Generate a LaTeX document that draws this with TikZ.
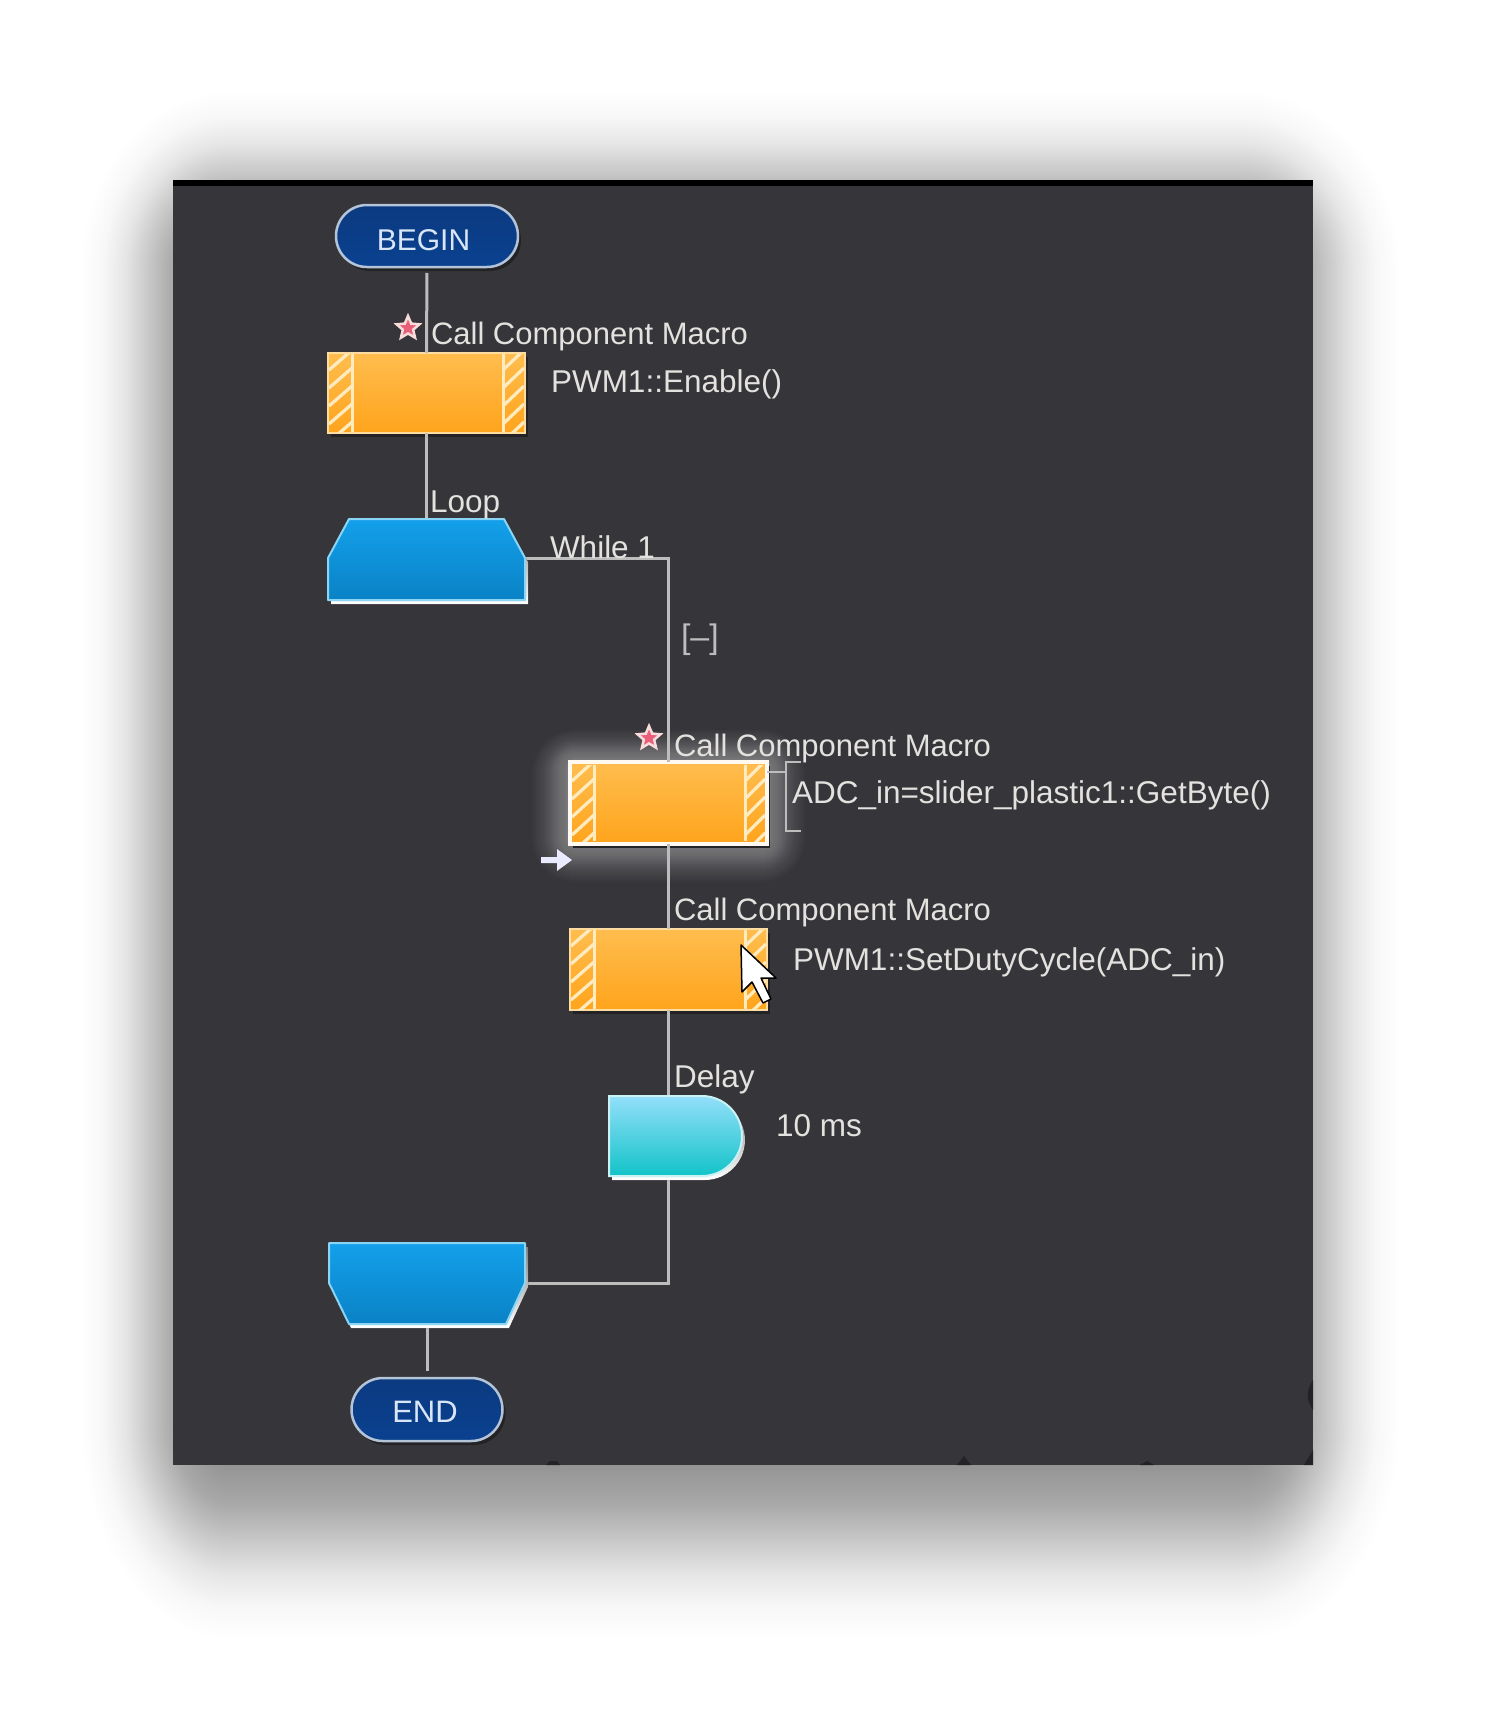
\documentclass[tikz,border=0pt]{standalone}
\usepackage{fontspec}
\setmainfont{Liberation Sans}
\usetikzlibrary{shapes.misc,shapes.geometric,shadows,calc}
\definecolor{panelc}{HTML}{363539}
\definecolor{linec}{HTML}{BDBDBD}
\definecolor{txtc}{HTML}{E4E2DF}
\definecolor{orgT}{HTML}{FFBD4E}
\definecolor{orgB}{HTML}{FFA41C}
\definecolor{orgL}{HTML}{FFDDA0}
\definecolor{hatchc}{HTML}{FFEBC0}
\definecolor{bluT}{HTML}{13A0EA}
\definecolor{bluB}{HTML}{0A82C6}
\definecolor{bluL}{HTML}{8AD4F4}
\definecolor{navyT}{HTML}{0B3A80}
\definecolor{navyB}{HTML}{0A4190}
\definecolor{navyL}{HTML}{B4C4D8}
\definecolor{delT}{HTML}{93DFFA}
\definecolor{delB}{HTML}{12C3C8}
\definecolor{delL}{HTML}{C8F2F4}
\definecolor{shade}{HTML}{232225}
\definecolor{starF}{HTML}{E8607A}
\definecolor{starL}{HTML}{F8DCDC}
\definecolor{termT}{HTML}{D8E6F8}
\pgfdeclareverticalshading{softedge}{100bp}{
  rgb(0bp)=(1,1,1); rgb(25bp)=(1,1,1); rgb(32.5bp)=(.97,.97,.97); rgb(40bp)=(.9,.9,.9);
  rgb(50bp)=(.75,.75,.75); rgb(56bp)=(.66,.66,.66); rgb(65bp)=(.58,.58,.58); rgb(75bp)=(.55,.55,.55); rgb(100bp)=(.55,.55,.55)}
\pgfdeclareradialshading{softcorner}{\pgfpoint{0bp}{0bp}}{
  rgb(0bp)=(.55,.55,.55); rgb(5bp)=(.58,.58,.58); rgb(9.5bp)=(.66,.66,.66); rgb(12.5bp)=(.75,.75,.75);
  rgb(17.5bp)=(.9,.9,.9); rgb(21.25bp)=(.97,.97,.97); rgb(25bp)=(1,1,1); rgb(50bp)=(1,1,1)}
\tikzset{
  lbl/.style={anchor=base west,inner sep=0pt,outer sep=0pt,text=txtc,font=\fontsize{31.5}{36}\selectfont},
  callt/.style={lbl,font=\fontsize{31}{36}\selectfont},
  term/.style={rounded rectangle,inner sep=0pt,outer sep=0pt,draw=navyL,line width=2.5pt,top color=navyT,bottom color=navyB,
    text=termT,drop shadow={shadow xshift=3pt,shadow yshift=-4pt,fill=shade,opacity=1}},
  callbox/.style={rectangle,inner sep=0pt,outer sep=0pt,minimum width=197pt,draw=orgL,line width=2pt,top color=orgT,bottom color=orgB,
    drop shadow={shadow xshift=3pt,shadow yshift=-4pt,fill=shade,opacity=1}},
  holder/.style={rectangle,inner sep=0pt,outer sep=0pt},
  conn/.style={draw=linec,line width=3pt},
  loopshape/.style={draw=bluL,line width=2pt,top color=bluT,bottom color=bluB,line join=round},
  staric/.style={star,star points=5,star point ratio=2.2,minimum size=24pt,inner sep=0pt,fill=starF,draw=starL,line width=2.5pt},
  speck/.style={fill=shade}
}
\newcommand{\hatchstripe}[4]{% xa xb ytop ybottom
  \begin{scope}
    \clip (#1,#3) rectangle (#2,#4);
    \foreach \k in {0,...,6}{
      \draw[hatchc,line width=3.2pt] (#1,{#3+\k*18-2}) -- (#2,{#3+\k*18-22});
    }
  \end{scope}
}
\begin{document}
\begin{tikzpicture}[x=1pt,y=-1pt]
\useasboundingbox (0,0) rectangle (1496,1710);
\fill[white] (0,0) rectangle (1496,1710);
% soft outer shadow: corners, then edges
\begin{scope}\clip (80,90) rectangle (230,270);
  \path[shading=softcorner] (80,90) rectangle (380,450);\end{scope}
\begin{scope}\clip (1240,90) rectangle (1400,270);
  \path[shading=softcorner] (1080,90) rectangle (1400,450);\end{scope}
\begin{scope}\clip (80,1420) rectangle (230,1640);
  \path[shading=softcorner] (80,1200) rectangle (380,1640);\end{scope}
\begin{scope}\clip (1240,1420) rectangle (1400,1640);
  \path[shading=softcorner] (1080,1200) rectangle (1400,1640);\end{scope}
\path[shading=softedge,shading angle=270] (80,269) rectangle (230,1421);
\path[shading=softedge,shading angle=90] (1240,269) rectangle (1400,1421);
\path[shading=softedge,shading angle=180] (229,90) rectangle (1241,270);
\path[shading=softedge] (229,1420) rectangle (1241,1640);
% panel
\fill[panelc] (173,180) rectangle (1313,1465);
\fill[black] (173,180) rectangle (1313,186);
% specks on the panel edge
\fill[speck] (546,1465) -- (550,1461) -- (557,1461) -- (560,1465) -- cycle;
\fill[speck] (957,1465) -- (964,1456) -- (971,1465) -- cycle;
\fill[speck] (1140,1465) -- (1147,1461) -- (1154,1465) -- cycle;
\fill[speck] (1304,1465) -- (1313,1450) -- (1313,1465) -- cycle;
\fill[speck] (1313,1380) .. controls (1306,1390) and (1306,1400) .. (1313,1410) -- cycle;
% glow round the current icon
\foreach \e in {0,2,...,38}{
  \pgfmathsetmacro{\ga}{0.036*(1-\e/70)}
  \pgfmathsetmacro{\gr}{6+\e}
  \fill[white,opacity=\ga,rounded corners=\gr pt] ({570-\e},{762-\e*0.85}) rectangle ({767+\e},{844+\e});
}
% anchor-only nodes of the icons whose outline is a path
\node[holder,minimum width=197pt,minimum height=81pt] (loop) at (426.5,559.5) {};
\node[holder,minimum width=196pt,minimum height=81pt] (loopend) at (427,1283.5) {};
\node[holder,minimum width=133pt,minimum height=80pt] (delay) at (675.5,1136) {};
% terminals and calls
\node[term,minimum width=182pt,minimum height=62pt,font=\fontsize{30}{36}\selectfont] (nBegin) at (427,236) {\kern-7pt\raisebox{-14pt}[0pt][0pt]{BEGIN}};
\node[term,minimum width=151pt,minimum height=63pt,font=\fontsize{31}{36}\selectfont] (nEnd) at (427,1409.5) {\kern-4pt\raisebox{-12.5pt}[0pt][0pt]{END}};
\node[callbox,minimum height=80pt] (box1) at (426.5,393) {};
\node[callbox,minimum height=82pt,draw=white!95!orange,line width=4.5pt] (box2) at (668.5,803) {};
\node[callbox,minimum height=81pt] (box3) at (668.5,969.5) {};
% connectors
\coordinate (loopR) at ($(loop.north east)+(0,39)$);
\coordinate (loopendR) at ($(loopend.north east)+(0,40)$);
\draw[conn,shorten <=6pt] (nBegin.south) -- (box1.north);
\draw[conn] (box1.south) -- (loop.north);
\draw[conn] (loopR) -| (box2.north);
\draw[conn] (box2.south) -- (box3.north);
\draw[conn] (box3.south) -- (box3.south |- delay.north);
\draw[conn] (box3.south |- delay.south) |- (loopendR);
\draw[conn,shorten >=7pt] (loopend.south) -- (nEnd.north);
% bracket of the selected icon
\coordinate (brT) at (801,762);
\coordinate (brB) at (801,831);
\coordinate (brM) at (786,772);
\draw[linec,line width=2pt] (brT) -- (786,762) -- (786,831) -- (brB);
\draw[linec,line width=2pt] (box2.east |- brM) -- (brM);
% loop icons
\fill[shade] (351,523) -- (507,523) -- (528,562) -- (528,604) -- (331,604) -- (331,562) -- cycle;
\path[loopshape] ($(loop.north west)+(21,0)$) -- ($(loop.north east)+(-21,0)$) -- (loopR) -- (loop.south east) -- (loop.south west) -- ($(loop.north west)+(0,39)$) -- cycle;
\fill[shade] (332,1247) -- (528,1247) -- (528,1287) -- (509,1328) -- (351,1328) -- (332,1287) -- cycle;
\path[loopshape] (loopend.north west) -- (loopend.north east) -- (loopendR) -- ($(loopend.south east)+(-19,0)$) -- ($(loopend.south west)+(20,0)$) -- ($(loopend.north west)+(0,40)$) -- cycle;
% delay icon
\fill[shade] (612,1100) -- (705,1100) .. controls (727,1100) and (745,1118) .. (745,1140) .. controls (745,1162) and (727,1180) .. (705,1180) -- (612,1180) -- cycle;
\path[draw=delL,line width=2pt,top color=delT,bottom color=delB]
  (delay.north west) -- ($(delay.north east)+(-40,0)$)
  .. controls ($(delay.north east)+(-18,0)$) and ($(delay.east)+(0,-22)$) .. (delay.east)
  .. controls ($(delay.east)+(0,22)$) and ($(delay.south east)+(-18,0)$) .. ($(delay.south east)+(-40,0)$)
  -- (delay.south west) -- cycle;
% hatched side stripes
\hatchstripe{329}{352}{354}{432}
\hatchstripe{503}{524}{354}{432}
\draw[hatchc,line width=3pt] (352,354) -- (352,432);
\draw[hatchc,line width=3pt] (503,354) -- (503,432);
\hatchstripe{572}{594}{765}{841}
\hatchstripe{745}{765}{765}{841}
\draw[hatchc,line width=3pt] (594,765) -- (594,841);
\draw[hatchc,line width=3pt] (745,765) -- (745,841);
\hatchstripe{571}{594}{930}{1009}
\hatchstripe{745}{766}{930}{1009}
\draw[hatchc,line width=3pt] (594,930) -- (594,1009);
\draw[hatchc,line width=3pt] (745,930) -- (745,1009);
% stars, arrow, cursor
\node[staric] (star1) at (408,328) {};
\node[staric] (star2) at (649,738) {};
\fill[white!92!blue] (541,857) -- (557,857) -- (557,849) -- (572,860) -- (557,871) -- (557,863) -- (541,863) -- cycle;
\draw[black,fill=white,line width=1.5pt,line join=round] (741,945) -- (742,992) -- (752,982) -- (763,1003) -- (771,999) -- (761,978) -- (776,978) -- cycle;
% texts
\node[callt] (t1) at (431,344) {Call Component Macro};
\node[lbl] (t2) at (551,392) {PWM1::Enable()};
\node[lbl] (t3) at (430,512) {Loop};
\node[lbl] (t4) at (550,558) {While 1};
\node[lbl,text=linec,font=\fontsize{34}{40}\selectfont] (t5) at (681,648) {[–]};
\node[callt] (t6) at (674,756) {Call Component Macro};
\node[lbl] (t7) at (792,803) {ADC\_in=slider\_plastic1::GetByte()};
\node[callt] (t8) at (674,920) {Call Component Macro};
\node[lbl] (t9) at (793,970) {PWM1::SetDutyCycle(ADC\_in)};
\node[lbl] (t10) at (674,1087) {Delay};
\node[lbl] (t11) at (776,1136) {10 ms};
\end{tikzpicture}
\end{document}
